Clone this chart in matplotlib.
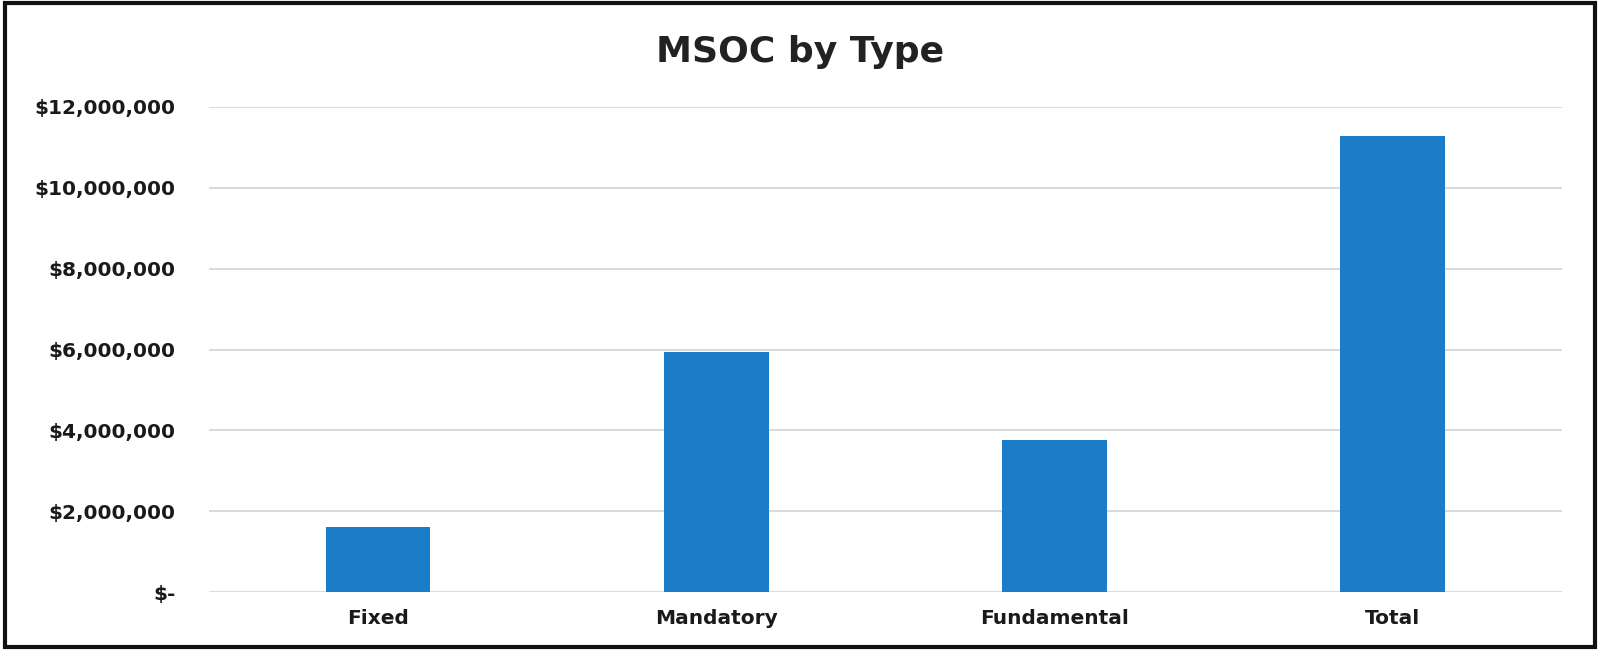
import matplotlib
matplotlib.use("Agg")
import matplotlib.pyplot as plt
from matplotlib.patches import Rectangle
from matplotlib.ticker import FuncFormatter

categories = ["Fixed", "Mandatory", "Fundamental", "Total"]
values = [1_600_000, 5_930_000, 3_750_000, 11_280_000]
yticks = [0, 2_000_000, 4_000_000, 6_000_000, 8_000_000, 10_000_000, 12_000_000]
title = "MSOC by Type"

plt.rcParams['font.family'] = ['DejaVu Sans']

fig = plt.figure(figsize=(16, 6.5), dpi=100)
ax = fig.add_axes([0.1306, 0.0892, 0.976 - 0.1306, 0.8354 - 0.0892])

x = list(range(len(categories)))
ax.bar(x, values, width=0.31, color="#1b7dc7", zorder=3)

ax.set_xlim(-0.5, len(categories) - 0.5)
ax.set_ylim(0, 12_000_000)
ax.set_yticks(yticks)

def fmt(v, pos):
    if v == 0:
        return "$-"
    return "${:,.0f}".format(v)

ax.yaxis.set_major_formatter(FuncFormatter(fmt))
ax.set_xticks(x)
ax.set_xticklabels(categories)

ax.grid(axis="y", color="#d4d8d8", linewidth=1.3, zorder=0)
ax.set_axisbelow(True)
for s in ax.spines.values():
    s.set_visible(False)
ax.tick_params(axis="both", length=0, labelsize=14.5, colors="#1a1a1a")
ax.tick_params(axis="y", pad=24)
ax.tick_params(axis="x", pad=12)
for lab in ax.get_xticklabels() + ax.get_yticklabels():
    lab.set_fontweight("bold")

fig.text(0.5, 1 - 52 / 650, title, ha="center", va="center",
         fontsize=26, fontweight="bold", color="#222222")

fig.patches.append(Rectangle((0.003, 0.005), 0.994, 0.990, transform=fig.transFigure,
                             fill=False, edgecolor="#111111", linewidth=3, zorder=10))

fig.savefig("out.png", dpi=100)
